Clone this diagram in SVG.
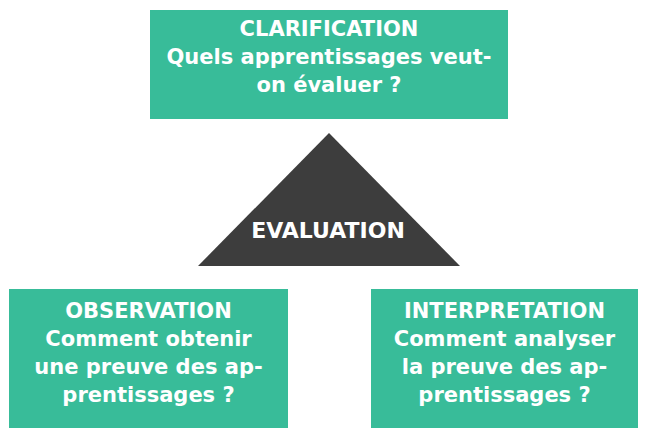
<svg xmlns="http://www.w3.org/2000/svg" width="645" height="428" viewBox="0 0 645 428">
<style>
.box{fill:#38bc99;}
.tri{fill:#3d3d3d;}
text{font-family:"DejaVu Sans","Liberation Sans",Arial,sans-serif;font-weight:bold;font-size:21px;fill:#ffffff;text-anchor:middle;}
</style>
<rect width="645" height="428" fill="#ffffff"/>
<g id="clarification">
<rect class="box" x="150" y="10" width="358" height="109"/>
<text x="329" y="36">CLARIFICATION</text>
<text x="329" y="64">Quels apprentissages veut-</text>
<text x="329" y="92">on évaluer ?</text>
</g>
<g id="evaluation">
<polygon class="tri" points="329,133 460,266 198,266"/>
<text x="328" y="238" style="font-size:22px">EVALUATION</text>
</g>
<g id="observation">
<rect class="box" x="9" y="289" width="279" height="139"/>
<text x="148.5" y="318">OBSERVATION</text>
<text x="148.5" y="346">Comment obtenir</text>
<text x="148.5" y="374">une preuve des ap-</text>
<text x="148.5" y="402">prentissages ?</text>
</g>
<g id="interpretation">
<rect class="box" x="371" y="289" width="267" height="139"/>
<text x="504.5" y="318">INTERPRETATION</text>
<text x="504.5" y="346">Comment analyser</text>
<text x="504.5" y="374">la preuve des ap-</text>
<text x="504.5" y="402">prentissages ?</text>
</g>
<g id="connectors"></g>
</svg>
